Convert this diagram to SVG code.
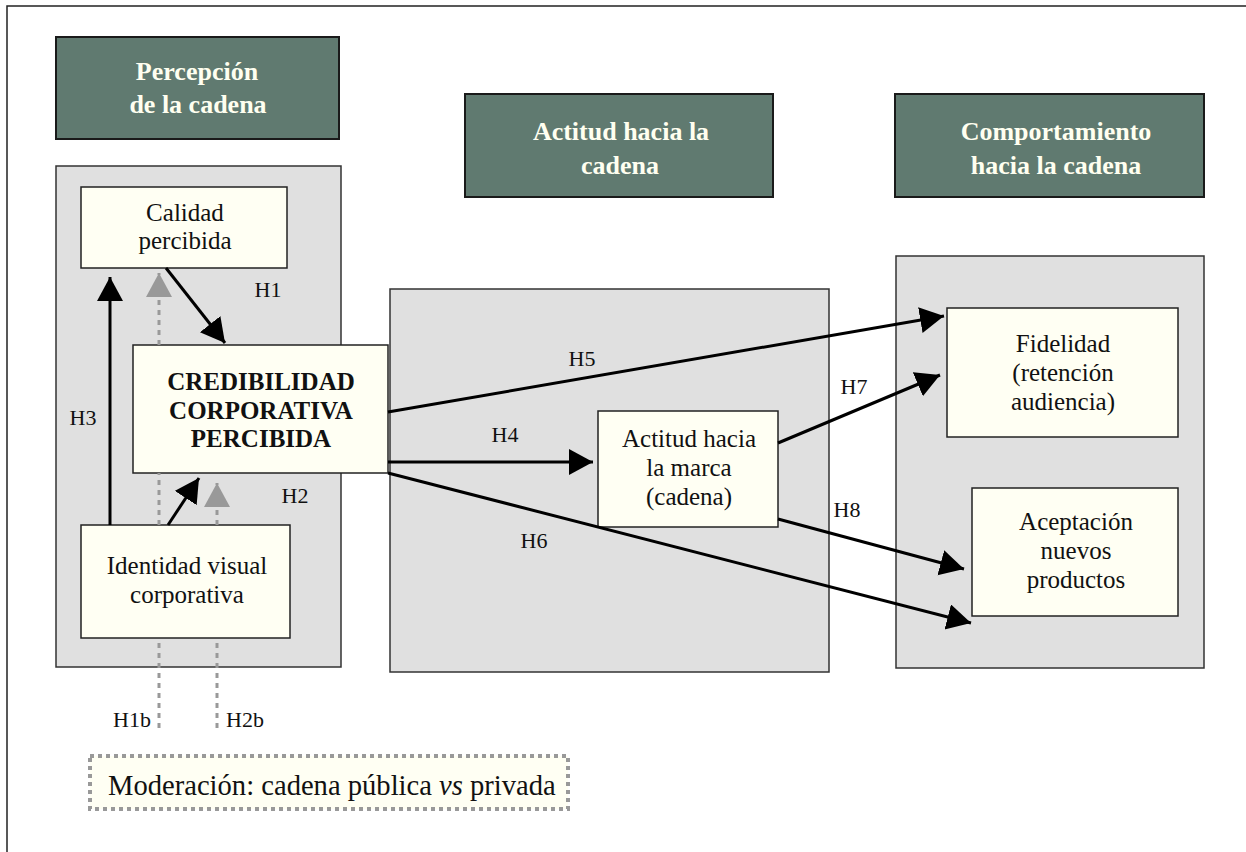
<svg xmlns="http://www.w3.org/2000/svg" width="1246" height="852" viewBox="0 0 1246 852">
<style>
.hdr{fill:#607a70;stroke:#1a1a1a;stroke-width:2}
.hdrt{font-family:"Liberation Serif","Times New Roman",serif;font-weight:bold;font-size:26px;fill:#fffff0;text-anchor:middle}
.panel{fill:#e0e0e0;stroke:#333;stroke-width:1.5}
.box{fill:#fffff3;stroke:#222;stroke-width:1.5}
.t{font-family:"Liberation Serif","Times New Roman",serif;font-size:25px;fill:#111;text-anchor:middle}
.tb{font-family:"Liberation Serif","Times New Roman",serif;font-size:25px;font-weight:bold;fill:#111;text-anchor:middle}
.lbl{font-family:"Liberation Serif","Times New Roman",serif;font-size:22px;fill:#111;text-anchor:middle}
.arr{fill:none;stroke:#000;stroke-width:3;marker-end:url(#ah)}
.dash{fill:none;stroke:#999;stroke-width:3;stroke-dasharray:5 5}
</style>
<defs>
<marker id="ah" markerUnits="userSpaceOnUse" markerWidth="26" markerHeight="28" refX="24" refY="13" orient="auto"><path d="M0,0 L24,13 L0,26 z" fill="#000"/></marker>
<marker id="gh" markerUnits="userSpaceOnUse" markerWidth="26" markerHeight="28" refX="24" refY="13" orient="auto"><path d="M0,0 L24,13 L0,26 z" fill="#999"/></marker>
</defs>
<rect x="0" y="0" width="1246" height="852" fill="#fff"/>
<rect x="7" y="6" width="1260" height="870" fill="none" stroke="#222" stroke-width="1.5"/>

<g id="hdr-percepcion"><rect class="hdr" x="56" y="37" width="283" height="102"/><text class="hdrt" x="197" y="80">Percepción</text><text class="hdrt" x="198" y="113">de la cadena</text></g>
<g id="hdr-actitud"><rect class="hdr" x="465" y="94" width="308" height="103"/><text class="hdrt" x="621" y="140">Actitud hacia la</text><text class="hdrt" x="620" y="174">cadena</text></g>
<g id="hdr-comportamiento"><rect class="hdr" x="895" y="94" width="309" height="103"/><text class="hdrt" x="1056" y="140">Comportamiento</text><text class="hdrt" x="1056" y="174">hacia la cadena</text></g>

<g id="panel-1"><rect class="panel" x="56" y="166" width="285" height="501"/></g>
<g id="panel-2"><rect class="panel" x="390" y="289" width="439" height="383"/></g>
<g id="panel-3"><rect class="panel" x="896" y="256" width="308" height="412"/></g>

<g id="calidad"><rect class="box" x="81" y="187" width="206" height="81"/><text class="t" x="185" y="221">Calidad</text><text class="t" x="185" y="249">percibida</text></g>
<g id="credibilidad"><rect class="box" x="133" y="345" width="255" height="128" stroke-width="3"/><text class="tb" x="261" y="390">CREDIBILIDAD</text><text class="tb" x="261" y="419">CORPORATIVA</text><text class="tb" x="261" y="447">PERCIBIDA</text></g>
<g id="identidad"><rect class="box" x="81" y="525" width="209" height="113"/><text class="t" x="187" y="574">Identidad visual</text><text class="t" x="187" y="603">corporativa</text></g>
<g id="actitud-marca"><rect class="box" x="598" y="411" width="180" height="116"/><text class="t" x="689" y="447">Actitud hacia</text><text class="t" x="689" y="476">la marca</text><text class="t" x="689" y="505">(cadena)</text></g>
<g id="fidelidad"><rect class="box" x="947" y="308" width="231" height="129"/><text class="t" x="1063" y="352">Fidelidad</text><text class="t" x="1063" y="381">(retención</text><text class="t" x="1063" y="410">audiencia)</text></g>
<g id="aceptacion"><rect class="box" x="972" y="488" width="206" height="128"/><text class="t" x="1076" y="530">Aceptación</text><text class="t" x="1076" y="559">nuevos</text><text class="t" x="1076" y="588">productos</text></g>
<g id="moderacion"><rect x="90" y="756" width="478" height="53" fill="#fffff3" stroke="#999" stroke-width="4" stroke-dasharray="4 4"/><text x="108" y="795" font-family="Liberation Serif, Times New Roman, serif" font-size="28.6" fill="#111">Moderación: cadena pública <tspan font-style="italic">vs</tspan> privada</text></g>

<g id="connectors">
<path class="dash" d="M159,728 L159,638"/>
<path class="dash" d="M159,525 L159,473"/>
<path class="dash" d="M159,345 L159,273" marker-end="url(#gh)"/>
<path class="dash" d="M217,728 L217,638"/>
<path class="dash" d="M217,525 L217,483" marker-end="url(#gh)"/>
<path class="arr" d="M110,525 L110,277"/>
<path class="arr" d="M166,268 L225,343"/>
<path class="arr" d="M168,525 L199,478"/>
<path class="arr" d="M388,462 L593,462"/>
<path class="arr" d="M388,412 L944,316"/>
<path class="arr" d="M388,473 L971,623"/>
<path class="arr" d="M778,443 L940,375"/>
<path class="arr" d="M778,519 L964,569"/>
</g>
<g id="labels">
<text class="lbl" x="268" y="297">H1</text>
<text class="lbl" x="83" y="425">H3</text>
<text class="lbl" x="295" y="503">H2</text>
<text class="lbl" x="582" y="366">H5</text>
<text class="lbl" x="505" y="442">H4</text>
<text class="lbl" x="534" y="548">H6</text>
<text class="lbl" x="854" y="394">H7</text>
<text class="lbl" x="847" y="517">H8</text>
<text class="lbl" x="132" y="727">H1b</text>
<text class="lbl" x="245" y="727">H2b</text>
</g>
</svg>
